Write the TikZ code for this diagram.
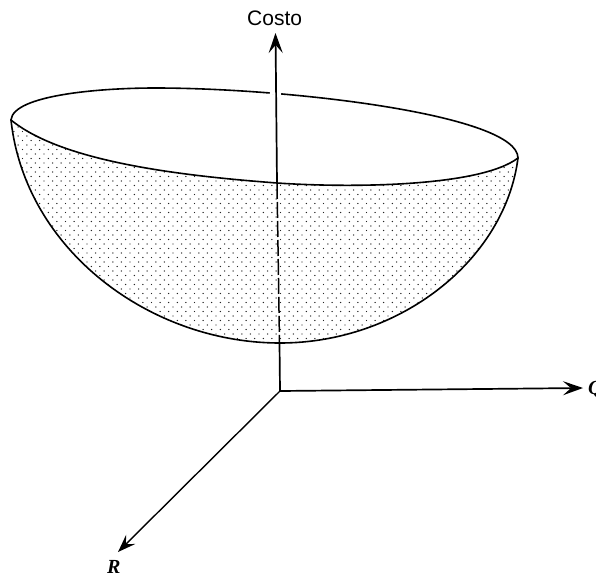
\documentclass[tikz,border=0pt]{standalone}
\usepackage{fontspec}
\setmainfont{Liberation Sans}
\newfontfamily\serifit{Liberation Serif}
\usetikzlibrary{arrows.meta,patterns}
\pgfdeclarepatternformonly{bowldots}{\pgfqpoint{-1pt}{-1pt}}{\pgfqpoint{10pt}{10pt}}{\pgfqpoint{8.6pt}{9pt}}{
  \pgfpathcircle{\pgfqpoint{1pt}{1pt}}{0.72pt}
  \pgfpathcircle{\pgfqpoint{5.3pt}{5.5pt}}{0.72pt}
  \pgfusepath{fill}}
\tikzset{
  curve/.style={line width=1.6pt,line join=round,line cap=round},
  axis/.style={line width=1.7pt,-{Stealth[length=20pt,width=14pt,inset=8pt]}},
  axisplain/.style={line width=1.7pt},
  axisdash/.style={line width=1.5pt,dash pattern=on 16pt off 3pt},
  axlabel/.style={inner sep=0pt,font=\fontsize{21}{24}\selectfont},
  letter/.style={inner sep=0pt,font=\serifit\bfseries\itshape\fontsize{20}{23}\selectfont}
}
\begin{document}
\begin{tikzpicture}[x=1pt,y=-1pt]
\useasboundingbox (0,0) rectangle (596,578);
% points
\coordinate (O) at (280,391);
\coordinate (Ztop) at (275.5,33);
\coordinate (Zrim) at (277,183);
\coordinate (Zbot) at (279.5,343);
\coordinate (Qtip) at (583,388);
\coordinate (Rtip) at (118,552);
\coordinate (L) at (11,120);
\coordinate (Rr) at (518,158);
\coordinate (B) at (280,343);
\coordinate (T) at (155,88);
% shaded bowl
\fill[pattern=bowldots,pattern color=black!85]
  (L) .. controls (60,160) and (170,175) .. (Zrim)
      .. controls (350,188) and (480,187) .. (Rr)
      .. controls (505,260) and (400,343) .. (B)
      .. controls (150,343) and (25,250) .. (L) -- cycle;
% rim
\draw[curve] (L) .. controls (13,95) and (100,88) .. (T)
                 .. controls (290,88) and (518,115) .. (Rr);
\draw[curve] (L) .. controls (60,160) and (170,175) .. (Zrim)
                 .. controls (350,188) and (480,187) .. (Rr);
% gap in the far rim where the axis passes
\draw[white,line width=4pt] (270,92) -- (281,94);
% bowl
\draw[curve] (L) .. controls (25,250) and (150,343) .. (B)
                 .. controls (400,343) and (505,260) .. (Rr);
% axes
\draw[axis] (Zrim) -- (Ztop);
\draw[axisdash] (Zrim) -- (Zbot);
\draw[axisplain] (Zbot) -- (O);
\draw[axis] (O) -- (Qtip);
\draw[axis,line width=1.4pt,-{Stealth[length=18pt,width=13pt,inset=7pt]}] (O) -- (Rtip);
% labels
\node[axlabel,anchor=base west] (costo) at (247,26) {Costo};
\node[letter,anchor=base west] (q) at (588,394) {Q};
\node[letter,anchor=base west] (r) at (107,573.5) {R};
\end{tikzpicture}
\end{document}
